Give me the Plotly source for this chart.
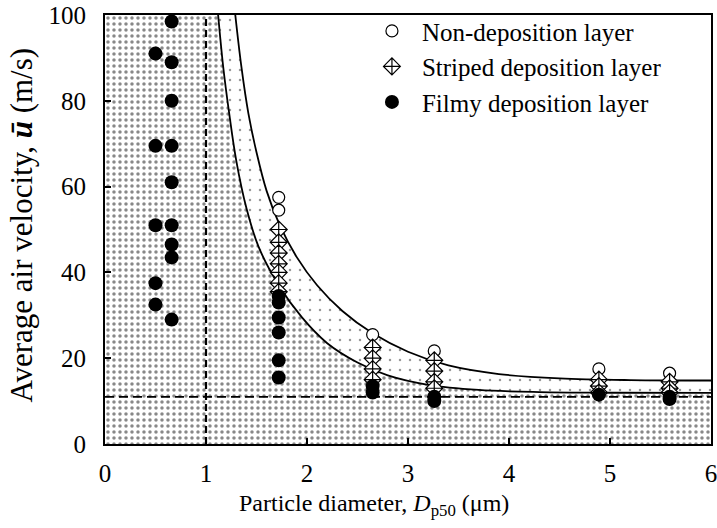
import plotly.graph_objects as go

# ---- axes ----
X_RANGE = [0, 6]
Y_RANGE = [0, 100]
X_TICKS = [0, 1, 2, 3, 4, 5, 6]
Y_TICKS = [0, 20, 40, 60, 80, 100]

# ---- critical thresholds (dashed lines) ----
CRIT_D = 1.0
CRIT_U = 11.0

# ---- boundary curves ----
upper_x = [1.29, 1.35, 1.42, 1.50, 1.60, 1.73, 1.90, 2.10, 2.35, 2.65, 3.00, 3.40, 3.90, 4.50, 5.20, 6.00]
upper_y = [100, 88, 77, 68, 59, 51, 43.5, 37, 31, 25.8, 21.5, 18.3, 16.3, 15.3, 14.9, 14.8]

lower_x = [1.12, 1.17, 1.23, 1.30, 1.40, 1.52, 1.72, 1.95, 2.20, 2.50, 2.80, 3.20, 3.70, 4.30, 5.00, 6.00]
lower_y = [100, 88, 77, 66, 55, 46, 37, 29.5, 23.5, 19, 16, 13.8, 12.6, 12.1, 11.95, 11.9]

# ---- measured points ----
non_x = [1.72, 1.72, 2.65, 3.26, 4.89, 5.59]
non_y = [57.5, 54.5, 25.5, 21.7, 17.5, 16.5]

str_x = [1.72] * 7 + [2.65] * 4 + [3.26] * 4 + [4.89] * 3 + [5.59] * 3
str_y = [50, 47, 44.5, 42, 40, 37.5, 35.5,
         22.5, 20, 17.5, 15,
         19.5, 17, 14.5, 13,
         15, 13.5, 12,
         14.5, 13, 12]

fil_x = [0.50] * 5 + [0.66] * 9 + [1.72] * 6 + [2.65] * 2 + [3.26] * 2 + [4.89] + [5.59] * 2
fil_y = [91, 69.5, 51, 37.5, 32.5,
         98.5, 89, 80, 69.5, 61, 51, 46.5, 43.5, 29,
         34.5, 33, 29.5, 26, 19.5, 15.5,
         13.5, 12,
         11, 10,
         11.5,
         11, 10.5]

X_TITLE = "Particle diameter, <i>D</i><sub>p50</sub> (μm)"
Y_TITLE = "Average air velocity, <b><i>ū</i></b> (m/s)"

FONT = "Liberation Serif"

fig = go.Figure()

# dense dotted region (filmy deposition zone)
fig.add_trace(go.Scatter(
    x=[X_RANGE[0], X_RANGE[0]] + lower_x + [X_RANGE[1], X_RANGE[1], X_RANGE[0]],
    y=[Y_RANGE[0], Y_RANGE[1]] + lower_y + [lower_y[-1], Y_RANGE[0], Y_RANGE[0]],
    mode="lines", line=dict(width=0), fill="toself",
    fillcolor="white",
    fillpattern=dict(shape=".", fgcolor="#111", bgcolor="white", size=6, solidity=0.27),
    showlegend=False, hoverinfo="skip"))

# sparse dotted region (striped deposition zone)
fig.add_trace(go.Scatter(
    x=upper_x + lower_x[::-1],
    y=upper_y + lower_y[::-1],
    mode="lines", line=dict(width=0), fill="toself",
    fillcolor="white",
    fillpattern=dict(shape=".", fgcolor="#333", bgcolor="white", size=10, solidity=0.05),
    showlegend=False, hoverinfo="skip"))

# boundary curves
for cx, cy in [(upper_x, upper_y), (lower_x, lower_y)]:
    fig.add_trace(go.Scatter(x=cx, y=cy, mode="lines", line=dict(color="black", width=1.8, shape="spline"),
                             showlegend=False, hoverinfo="skip"))

# dashed threshold lines
fig.add_trace(go.Scatter(x=[CRIT_D, CRIT_D], y=Y_RANGE, mode="lines",
                         line=dict(color="black", width=2.2, dash="7px,4px"),
                         showlegend=False, hoverinfo="skip"))
fig.add_trace(go.Scatter(x=X_RANGE, y=[CRIT_U, CRIT_U], mode="lines",
                         line=dict(color="black", width=1.8, dash="9px,5px"),
                         showlegend=False, hoverinfo="skip"))

# data
fig.add_trace(go.Scatter(x=non_x, y=non_y, mode="markers", name="Non-deposition layer",
                         marker=dict(symbol="circle", size=12, color="white",
                                     line=dict(color="black", width=1.2))))
fig.add_trace(go.Scatter(x=str_x, y=str_y, mode="markers", name="Striped deposition layer",
                         marker=dict(symbol="diamond-cross", size=13, color="white",
                                     line=dict(color="black", width=1.2))))
fig.add_trace(go.Scatter(x=fil_x, y=fil_y, mode="markers", name="Filmy deposition layer",
                         marker=dict(symbol="circle", size=14, color="black",
                                     line=dict(color="black", width=0))))

axis_common = dict(showline=True, linecolor="black", linewidth=2, mirror=True,
                   ticks="inside", ticklen=6, tickwidth=1.5, tickcolor="black",
                   showgrid=False, zeroline=False, automargin=False,
                   ticklabeloverflow="allow",
                   tickfont=dict(family=FONT, size=25, color="black"))

fig.update_xaxes(range=X_RANGE, tickvals=X_TICKS, ticklabelstandoff=6, **axis_common)
fig.update_yaxes(range=Y_RANGE, tickvals=Y_TICKS, ticklabelstandoff=12, **axis_common)

fig.add_annotation(text=X_TITLE, xref="paper", yref="paper", x=0.444, y=-0.142,
                   xanchor="center", yanchor="middle", showarrow=False,
                   font=dict(family=FONT, size=24, color="black"))
fig.add_annotation(text=Y_TITLE, xref="paper", yref="paper", x=-0.138, y=0.51,
                   xanchor="center", yanchor="middle", showarrow=False, textangle=-90,
                   font=dict(family=FONT, size=31, color="black"))

fig.update_layout(
    width=717, height=528,
    margin=dict(l=105, r=6, t=15, b=84),
    paper_bgcolor="white", plot_bgcolor="white",
    font=dict(family=FONT, color="black"),
    legend=dict(x=0.424, y=1.016, xanchor="left", yanchor="top", itemwidth=50,
                bgcolor="rgba(0,0,0,0)", borderwidth=0,
                font=dict(family=FONT, size=25, color="black")),
)

fig.write_html("out.html", config={"displayModeBar": False},
               post_script="document.body.style.margin='0px';document.body.style.overflow='hidden';")
